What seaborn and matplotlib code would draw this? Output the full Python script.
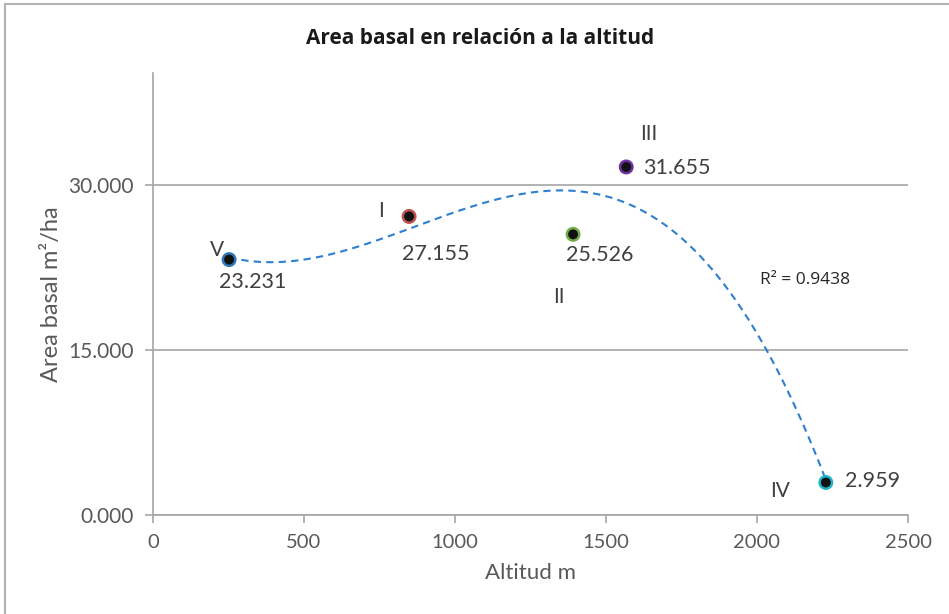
import numpy as np
import pandas as pd
import seaborn as sns
import matplotlib.pyplot as plt
from matplotlib.patches import Rectangle

sns.set_style('white')
plt.rcParams['font.family'] = ['Lato', 'DejaVu Sans']

# data
sitios = ['V', 'I', 'II', 'III', 'IV']
altitud = [252, 848, 1391, 1567, 2228]
area_basal = [23.231, 27.155, 25.526, 31.655, 2.959]
valor_txt = ['23.231', '27.155', '25.526', '31.655', '2.959']
bordes = ['#2e75b6', '#c0504d', '#70ad47', '#7030a0', '#1fb5c9']

df = pd.DataFrame({'sitio': sitios, 'altitud': altitud, 'area': area_basal})

fig = plt.figure(figsize=(9.49, 6.14), dpi=100)
ax = fig.add_axes([0.1612, 0.1612, 0.7956, 0.7199])

# cubic trend line (Excel polynomial trendline)
coef = np.polyfit(df['altitud'], df['area'], 3)
xs = np.linspace(min(altitud), max(altitud), 300)
trend = pd.DataFrame({'x': xs, 'y': np.polyval(coef, xs)})
sns.lineplot(data=trend, x='x', y='y', ax=ax, color='#2e7fd0', lw=1.5,
             linestyle=(0, (3.5, 2.5)), zorder=2)

sns.scatterplot(data=df, x='altitud', y='area', ax=ax, color='#111111',
                edgecolor=bordes, linewidth=1.8, s=80, zorder=3, legend=False)

txtc = '#404040'
# (label offset, value offset) in points
offs = {
    'V': ((-9, 7), (-7, -16)),
    'I': ((-20, 4), (-5, -27)),
    'II': ((-10, -45), (-5, -15)),
    'III': ((16, 24), (12, -1)),
    'IV': ((-33, -6), (14, 1)),
}
for s, x, y, v in zip(sitios, altitud, area_basal, valor_txt):
    lo, vo = offs[s]
    ax.annotate(s, (x, y), xytext=lo, textcoords='offset points',
                fontsize=15, color=txtc, ha='center', va='center')
    ax.annotate(v, (x, y), xytext=vo, textcoords='offset points',
                fontsize=15.5, color=txtc, ha='left', va='center')

ax.text(2010, 21.0, 'R² = 0.9438', fontsize=12.5, color='#262626',
        family=['Open Sans', 'DejaVu Sans'])

ax.set_xlim(0, 2500)
ax.set_ylim(0, 40.2)
ax.set_xticks([0, 500, 1000, 1500, 2000, 2500])
ax.set_yticks([0, 15, 30])
ax.set_yticklabels(['0.000', '15.000', '30.000'])
ax.yaxis.grid(True, color='#a6a6a6', lw=1.2)
ax.xaxis.grid(False)
ax.set_axisbelow(True)
for sp in ['top', 'right']:
    ax.spines[sp].set_visible(False)
for sp in ['left', 'bottom']:
    ax.spines[sp].set_color('#a6a6a6')
    ax.spines[sp].set_linewidth(1.2)
ax.tick_params(axis='both', length=6, width=1.2, color='#a6a6a6',
               labelsize=15, labelcolor='#595959', pad=3)
ax.tick_params(axis='x', bottom=True, pad=8, labelsize=14.5)
ax.tick_params(axis='y', left=True, pad=8)

ax.set_xlabel('Altitud m', fontsize=16, color='#595959', labelpad=8)
ax.set_ylabel('Area basal m²/ha', fontsize=17, color='#595959', labelpad=4)
fig.text(0.506, 0.938, 'Area basal en relación a la altitud', ha='center',
         va='center', fontsize=15, fontweight='bold', color='#1a1a1a',
         family=['Open Sans', 'DejaVu Sans'])

# chart frame
fig.patches.append(Rectangle((0.0055, -0.05), 1.2, 1.043, transform=fig.transFigure,
                             fill=False, edgecolor='#b3b3b3', lw=1.5))

fig.savefig('out.png', dpi=100)
